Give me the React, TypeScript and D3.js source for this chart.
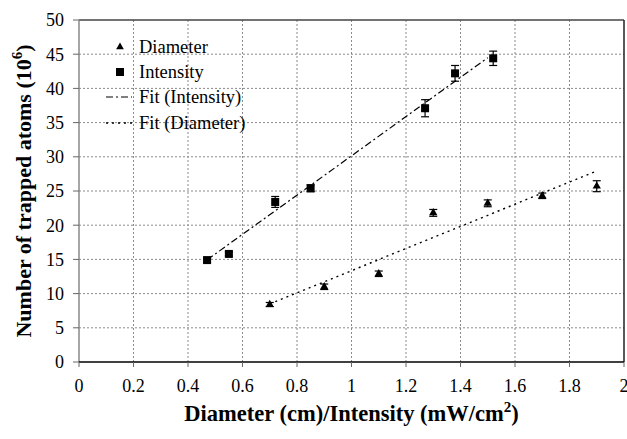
import React from "react";
import * as d3 from "d3";

// Intensity series (squares)
const intensityX = [0.47, 0.55, 0.72, 0.85, 1.27, 1.38, 1.52];
const intensityY = [14.9, 15.8, 23.4, 25.4, 37.1, 42.2, 44.4];
const intensityErr = [0.3, 0.3, 0.8, 0.5, 1.25, 1.15, 1.05];

// Diameter series (triangles)
const diameterX = [0.7, 0.9, 1.1, 1.3, 1.5, 1.7, 1.9];
const diameterY = [8.4, 11.0, 12.9, 21.8, 23.2, 24.3, 25.7];
const diameterErr = [0.3, 0.4, 0.4, 0.5, 0.5, 0.4, 0.8];

// linear fits: [slope, intercept, xStart, xEnd]
const fitIntensity = [28.7, 1.44, 0.47, 1.5];
const fitDiameter = [16.2, -2.85, 0.7, 1.9];

const xTicks = [0, 0.2, 0.4, 0.6, 0.8, 1, 1.2, 1.4, 1.6, 1.8, 2];
const yTicks = [0, 5, 10, 15, 20, 25, 30, 35, 40, 45, 50];

const W = 627;
const H = 439;
const margin = { left: 79, right: 3, top: 20, bottom: 77 };
const font = { fontFamily: "Liberation Serif" };

export default function App() {
  const x = d3.scaleLinear().domain([0, 2]).range([margin.left, W - margin.right]);
  const y = d3.scaleLinear().domain([0, 50]).range([H - margin.bottom, margin.top]);

  const fitLine = (f: number[]) =>
    d3.line<number>()
      .x((v) => x(v))
      .y((v) => y(f[0] * v + f[1]))([f[2], f[3]]) as string;

  const tri = d3.symbol().type(d3.symbolTriangle).size(30)() as string;
  const triLegend = d3.symbol().type(d3.symbolTriangle).size(26)() as string;

  const errBar = (cx: number, cy: number, e: number, k: string) => (
    <g key={k} stroke="#000" strokeWidth={1.2}>
      <line x1={x(cx)} x2={x(cx)} y1={y(cy - e)} y2={y(cy + e)} />
      <line x1={x(cx) - 4} x2={x(cx) + 4} y1={y(cy - e)} y2={y(cy - e)} />
      <line x1={x(cx) - 4} x2={x(cx) + 4} y1={y(cy + e)} y2={y(cy + e)} />
    </g>
  );

  const x0 = margin.left;
  const x1 = W - margin.right;
  const y0 = H - margin.bottom;
  const y1 = margin.top;

  const legendRows = [
    { label: "Diameter", kind: "tri" },
    { label: "Intensity", kind: "sq" },
    { label: "Fit (Intensity)", kind: "dashdot" },
    { label: "Fit (Diameter)", kind: "dot" },
  ];
  const legendY = [47, 72, 97, 123];

  return (
    <svg width={W} height={H} style={{ position: "absolute", left: 0, top: 0, background: "#fff" }}>
      {/* grid */}
      <g stroke="#8a8a8a" strokeWidth={1} strokeDasharray="2,2">
        {xTicks.slice(1, -1).map((t) => (
          <line key={"gx" + t} x1={x(t)} x2={x(t)} y1={y0} y2={y1} />
        ))}
        {yTicks.slice(1, -1).map((t) => (
          <line key={"gy" + t} x1={x0} x2={x1} y1={y(t)} y2={y(t)} />
        ))}
      </g>

      {/* frame */}
      <line x1={x0} x2={x1} y1={y1} y2={y1} stroke="#444" strokeWidth={1.5} />
      <line x1={x1} x2={x1} y1={y1} y2={y0} stroke="#222" strokeWidth={1.5} />
      <line x1={x0} x2={x0} y1={y1} y2={y0} stroke="#888" strokeWidth={1.5} />
      <line x1={x0} x2={x1} y1={y0} y2={y0} stroke="#000" strokeWidth={1.5} />

      {/* ticks */}
      <g stroke="#666" strokeWidth={1}>
        {yTicks.map((t) => (
          <line key={"ty" + t} x1={x0 - 6} x2={x0} y1={y(t)} y2={y(t)} />
        ))}
        {xTicks.map((t) => (
          <line key={"tx" + t} x1={x(t)} x2={x(t)} y1={y0} y2={y0 + 5} />
        ))}
      </g>
      {yTicks.map((t) => (
        <text key={"ly" + t} style={font} fontSize={18} x={x0 - 15} y={y(t)} dy="0.35em" textAnchor="end">{t}</text>
      ))}
      {xTicks.map((t) => (
        <text key={"lx" + t} style={font} fontSize={18} x={x(t)} y={y0 + 30} textAnchor="middle">{t}</text>
      ))}

      {/* fits */}
      <path d={fitLine(fitIntensity)} fill="none" stroke="#000" strokeWidth={1.2} strokeDasharray="7,3,2,3" />
      <path d={fitLine(fitDiameter)} fill="none" stroke="#000" strokeWidth={1.4} strokeDasharray="2,4" />

      {/* error bars */}
      {intensityX.map((v, i) => errBar(v, intensityY[i], intensityErr[i], "ei" + i))}
      {diameterX.map((v, i) => errBar(v, diameterY[i], diameterErr[i], "ed" + i))}

      {/* markers */}
      {intensityX.map((v, i) => (
        <rect key={"si" + i} x={x(v) - 4} y={y(intensityY[i]) - 4} width={8} height={8} fill="#000" />
      ))}
      {diameterX.map((v, i) => (
        <path key={"sd" + i} d={tri} transform={`translate(${x(v)},${y(diameterY[i])})`} fill="#000" />
      ))}

      {/* legend */}
      {legendRows.map((r, i) => (
        <g key={r.label}>
          {r.kind === "tri" && <path d={triLegend} transform={`translate(120,${legendY[i]})`} fill="#000" />}
          {r.kind === "sq" && <rect x={116} y={legendY[i] - 4} width={8} height={8} fill="#000" />}
          {r.kind === "dashdot" && (
            <line x1={106} x2={132} y1={legendY[i]} y2={legendY[i]} stroke="#000" strokeWidth={1.2} strokeDasharray="7,3,2,3" />
          )}
          {r.kind === "dot" && (
            <line x1={106} x2={132} y1={legendY[i]} y2={legendY[i]} stroke="#000" strokeWidth={1.4} strokeDasharray="2,4" />
          )}
          <text style={font} fontSize={18.5} x={139} y={legendY[i]} dy="0.35em">{r.label}</text>
        </g>
      ))}

      {/* axis titles */}
      <text x={(x0 + x1) / 2} y={421} textAnchor="middle" style={font} fontWeight="bold" fontSize={22.5}>
        Diameter (cm)/Intensity (mW/cm<tspan dy={-9} fontSize={15}>2</tspan><tspan dy={9}>)</tspan>
      </text>
      <text
        transform={`translate(31,191) rotate(-90)`}
        textAnchor="middle"
        style={font}
        fontWeight="bold"
        fontSize={22}
      >
        Number of trapped atoms (10<tspan dy={-9} fontSize={15}>6</tspan><tspan dy={9}>)</tspan>
      </text>
    </svg>
  );
}
